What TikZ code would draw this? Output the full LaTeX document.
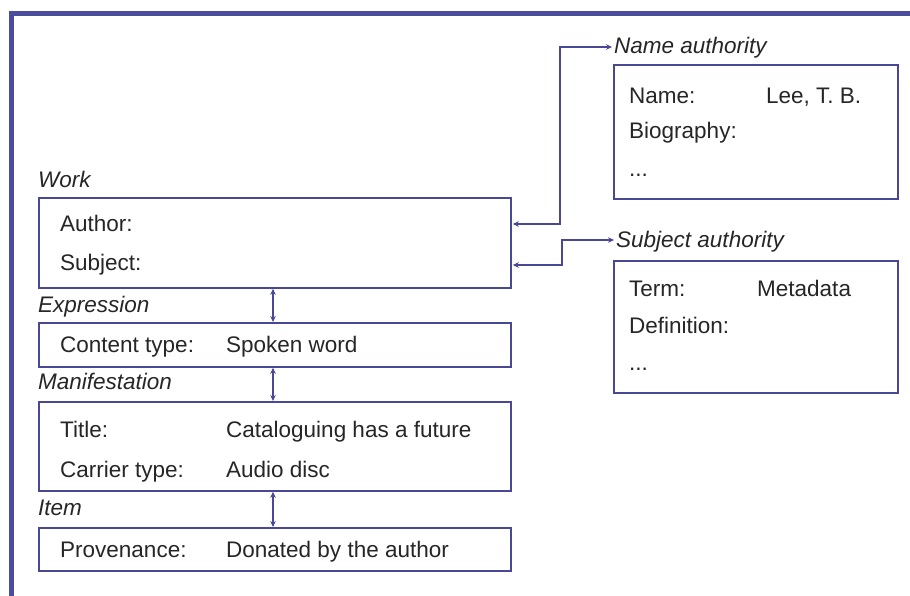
\documentclass[tikz,border=0pt]{standalone}
\usepackage{fontspec}
\setmainfont{Liberation Sans}
\usetikzlibrary{arrows.meta}
\definecolor{frameblue}{RGB}{76,76,156}
\definecolor{boxblue}{RGB}{72,72,150}
\definecolor{txt}{RGB}{38,38,38}
\begin{document}
\begin{tikzpicture}[x=1pt,y=-1pt,
  box/.style={draw=boxblue, line width=1.8pt, rectangle, inner sep=0pt, anchor=north west},
  lab/.style={anchor=base west, inner sep=0pt, font=\fontsize{22.5}{26}\selectfont\itshape, text=txt},
  fld/.style={anchor=base west, inner sep=0pt, font=\fontsize{22.5}{26}\selectfont, text=txt},
  conn/.style={draw=boxblue, line width=1.8pt, {Stealth[length=6pt,width=5.5pt]}-{Stealth[length=6pt,width=5.5pt]}}]
\useasboundingbox (0,0) rectangle (910,595);
\fill[white] (0,0) rectangle (910,595);
% frame
\draw[frameblue, line width=5pt] (11.5,597) -- (11.5,13.5) -- (912,13.5);

% Work
\node[lab] (worklab) at (38,187) {Work};
\node[box, minimum width=472pt, minimum height=90pt] (work) at (38,197) {};
\node[fld] (author) at (60,231) {Author:};
\node[fld] (subject) at (60,270) {Subject:};

% Expression
\node[lab] (exprlab) at (38,312) {Expression};
\node[box, minimum width=472pt, minimum height=44pt] (expr) at (38,322) {};
\node[fld] (ctype) at (60,352) {Content type:};
\node[fld] (ctypev) at (226,352) {Spoken word};

% Manifestation
\node[lab] (maniflab) at (38,389) {Manifestation};
\node[box, minimum width=472pt, minimum height=89pt] (manif) at (38,401) {};
\node[fld] (title) at (60,437) {Title:};
\node[fld] (titlev) at (226,437) {Cataloguing has a future};
\node[fld] (carrier) at (60,477) {Carrier type:};
\node[fld] (carrierv) at (226,477) {Audio disc};

% Item
\node[lab] (itemlab) at (38,515) {Item};
\node[box, minimum width=472pt, minimum height=43pt] (item) at (38,527) {};
\node[fld] (prov) at (60,557) {Provenance:};
\node[fld] (provv) at (226,557) {Donated by the author};

% Name authority
\node[lab] (nalab) at (614,53) {Name authority};
\node[box, minimum width=284pt, minimum height=134pt] (na) at (613,64) {};
\node[fld] (naname) at (629,103) {Name:};
\node[fld] (nanamev) at (766,103) {Lee, T. B.};
\node[fld] (nabio) at (629,138) {Biography:};
\node[fld] (nadots) at (629,176) {...};

% Subject authority
\node[lab] (salab) at (616,247) {Subject authority};
\node[box, minimum width=284pt, minimum height=132pt] (sa) at (613,260) {};
\node[fld] (saterm) at (629,296) {Term:};
\node[fld] (satermv) at (757,296) {Metadata};
\node[fld] (sadef) at (629,333) {Definition:};
\node[fld] (sadots) at (629,370) {...};

% vertical links
\draw[conn] (work.south -| 273,0) -- (expr.north -| 273,0);
\draw[conn] (expr.south -| 273,0) -- (manif.north -| 273,0);
\draw[conn] (manif.south -| 273,0) -- (item.north -| 273,0);

% authority links
\coordinate (c1) at (560,224);
\coordinate (c2) at (562,265);
\draw[conn] ([xshift=1pt]work.east |- c1) -- (c1) -- (c1 |- 0,47) -- ([xshift=-2pt]nalab.west |- 0,47);
\draw[conn] ([xshift=1pt]work.east |- c2) -- (c2) -- (c2 |- 0,240) -- ([xshift=-2pt]salab.west |- 0,240);
\end{tikzpicture}
\end{document}
